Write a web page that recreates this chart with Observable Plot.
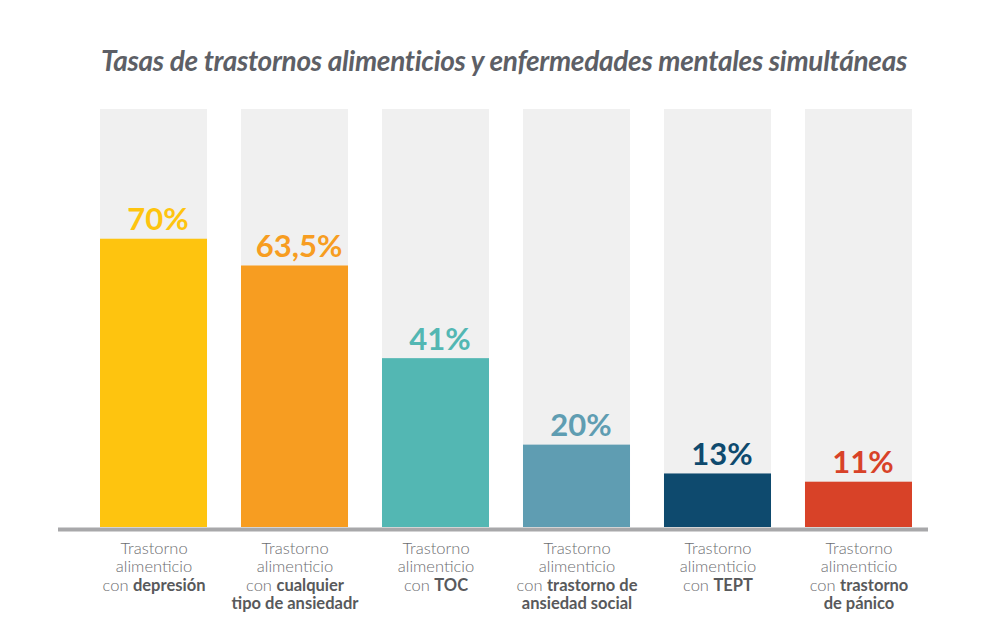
<!DOCTYPE html>
<html>
<head>
<meta charset="utf-8">
<script src="https://cdn.jsdelivr.net/npm/d3@7"></script>
<script src="https://cdn.jsdelivr.net/npm/@observablehq/plot@0.6"></script>
<style>
  html, body { margin: 0; padding: 0; background: #ffffff; }
  #wrap { width: 1000px; height: 625px; position: relative; overflow: hidden; }
  #title { position: absolute; left: 0; top: 0; width: 1000px; height: 100px; }
  #title span {
    position: absolute; left: 504px; top: 0; transform: translateX(-50%);
    font-family: Lato, sans-serif; font-weight: 700; font-style: italic;
    font-size: 28px; line-height: 1; color: #5d5f66; white-space: nowrap;
    padding-top: 46px; letter-spacing: -0.3px;
  }
  #chart { position: absolute; left: 0; top: 100px; }
</style>
</head>
<body>
<div id="wrap">
  <div id="title"><span>Tasas de trastornos alimenticios y enfermedades mentales simultáneas</span></div>
  <div id="chart"></div>
</div>
<script>
// ---- data ----
const categories = ["depresión", "cualquier tipo de ansiedadr", "TOC", "trastorno de ansiedad social", "TEPT", "trastorno de pánico"];
const values = [70, 63.5, 41, 20, 13, 11];
const valueLabels = ["70%", "63,5%", "41%", "20%", "13%", "11%"];
const colors = ["#fec40f", "#f79d21", "#53b7b3", "#5f9db2", "#0e4a6e", "#d84228"];
const labelLine1 = "Trastorno";
const labelLine2 = "alimenticio";
const labelPrefix = "con ";
const boldParts = [["depresión"], ["cualquier", "tipo de ansiedadr"], ["TOC"], ["trastorno de", "ansiedad social"], ["TEPT"], ["trastorno", "de pánico"]];
const backgroundLevel = 101.5;

const data = categories.map((c, i) => ({category: c, value: values[i], label: valueLabels[i], color: colors[i], bold: boldParts[i]}));

const SVGNS = "http://www.w3.org/2000/svg";
function categoryLabelRender(index, scales, vals, dims, context, next) {
  const g = next(index, scales, vals, dims, context);
  const texts = g.querySelectorAll("text");
  texts.forEach((t, k) => {
    const d = data[index[k]];
    t.textContent = "";
    const lines = [
      [[labelLine1, false]],
      [[labelLine2, false]],
      [[labelPrefix, false], [d.bold[0], true]]
    ];
    if (d.bold[1]) lines.push([[d.bold[1], true]]);
    lines.forEach((segs, j) => {
      segs.forEach((s, m) => {
        const ts = document.createElementNS(SVGNS, "tspan");
        if (m === 0) { ts.setAttribute("x", 0); ts.setAttribute("y", j * 18.5); }
        if (s[1]) { ts.setAttribute("font-weight", "700"); ts.setAttribute("fill", "#58595b"); }
        ts.textContent = s[0];
        t.appendChild(ts);
      });
    });
  });
  return g;
}

const chart = Plot.plot({
  width: 1000,
  height: 525,
  marginTop: 9,
  marginBottom: 98,
  marginLeft: 100,
  marginRight: 88,
  x: {domain: categories, paddingInner: 0.241, paddingOuter: 0, round: false, axis: null},
  y: {domain: [0, backgroundLevel], axis: null},
  color: {type: "identity"},
  style: {fontFamily: "Lato, sans-serif", background: "transparent"},
  marks: [
    Plot.barY(data, {x: "category", y: () => backgroundLevel, fill: "#f0f0f0"}),
    Plot.barY(data, {x: "category", y: "value", fill: "color"}),
    Plot.ruleY([0], {stroke: "#a8a8aa", strokeWidth: 4, dy: 2, insetLeft: -42, insetRight: -16}),
    Plot.text(data, {x: "category", y: "value", text: "label", fill: "color", dy: -9, dx: 4, lineAnchor: "bottom", fontSize: 31, fontWeight: 700}),
    Plot.text(data, {x: "category", y: () => 0, text: "category", fill: "#6d6e71", dy: 26, lineAnchor: "bottom", fontSize: 16.5, fontWeight: 300, render: categoryLabelRender})
  ]
});
document.getElementById("chart").appendChild(chart);
</script>
</body>
</html>
